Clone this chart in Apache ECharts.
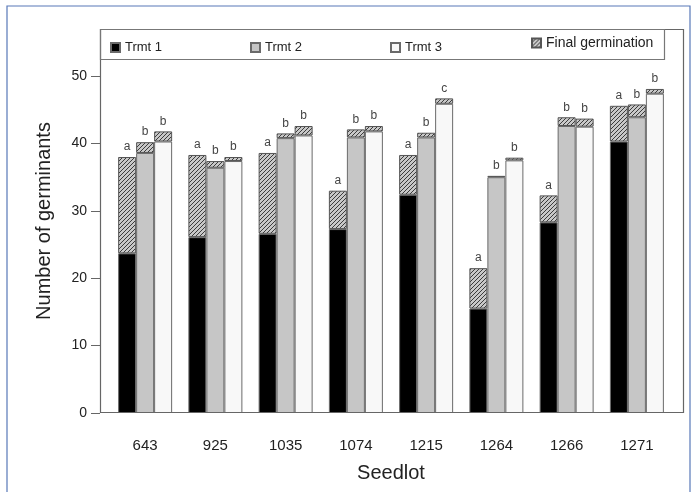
<!DOCTYPE html>
<html>
<head>
<meta charset="utf-8">
<script src="https://cdn.jsdelivr.net/npm/echarts@6/dist/echarts.min.js"></script>
<style>
html,body{margin:0;padding:0;background:#fff}
#chart{width:691px;height:492px}
</style>
</head>
<body>
<div id="chart"></div>
<script>
// seedlots along the x axis
var seedlots = ['643', '925', '1035', '1074', '1215', '1264', '1266', '1271'];

// germinants per treatment (solid part of the bar)
var trmt1 = [23.7, 26.1, 26.6, 27.3, 32.4, 15.5, 28.3, 40.3];
var trmt2 = [38.6, 36.4, 40.8, 40.9, 40.9, 35.0, 42.6, 43.9];
var trmt3 = [40.3, 37.4, 41.2, 41.8, 45.9, 37.5, 42.5, 47.4];

// final germination (top of the hatched part)
var final1 = [38.0, 38.3, 38.6, 33.0, 38.3, 21.5, 32.3, 45.6];
var final2 = [40.2, 37.4, 41.5, 42.1, 41.6, 35.2, 43.9, 45.8];
var final3 = [41.8, 38.0, 42.6, 42.6, 46.7, 37.9, 43.7, 48.1];

// significance letters
var letters1 = ['a', 'a', 'a', 'a', 'a', 'a', 'a', 'a'];
var letters2 = ['b', 'b', 'b', 'b', 'b', 'b', 'b', 'b'];
var letters3 = ['b', 'b', 'b', 'b', 'c', 'b', 'b', 'b'];

var yTicks = [0, 10, 20, 30, 40, 50];

function hatchCanvas() {
	var c = document.createElement('canvas');
	c.width = 4; c.height = 4;
	var g = c.getContext('2d');
	g.fillStyle = '#c8c8c8';
	g.fillRect(0, 0, 4, 4);
	g.strokeStyle = '#3c3c3c';
	g.lineWidth = 1;
	g.beginPath();
	g.moveTo(0, 4); g.lineTo(4, 0);
	g.moveTo(-1, 1); g.lineTo(1, -1);
	g.moveTo(3, 5); g.lineTo(5, 3);
	g.stroke();
	return c;
}
var hatch = {image: hatchCanvas(), repeat: 'repeat'};

function diff(top, base) {
	return top.map(function (v, i) { return +(v - base[i]).toFixed(2); });
}

function baseSeries(name, stack, data, color) {
	return {
		name: name, type: 'bar', stack: stack, data: data,
		barWidth: 18, barGap: '0%',
		itemStyle: {color: color, borderColor: '#6a6a6a', borderWidth: 1}
	};
}

function hatchSeries(stack, data, letters) {
	return {
		name: 'Final germination', type: 'bar', stack: stack, data: data,
		barWidth: 18, barGap: '0%',
		itemStyle: {color: hatch, borderColor: '#555', borderWidth: 1},
		label: {
			show: true, position: 'top', distance: 4,
			fontFamily: 'Liberation Sans', fontSize: 12, color: '#444',
			formatter: function (p) { return letters[p.dataIndex]; }
		}
	};
}

var legendBase = {
	orient: 'horizontal', icon: 'rect', itemWidth: 9, itemHeight: 9,
	itemGap: 0, padding: 0, selectedMode: false,
	textStyle: {fontFamily: 'Liberation Sans', fontSize: 13, color: '#222'}
};

var chart = echarts.init(document.getElementById('chart'));

var option = {
	animation: false,
	backgroundColor: '#fff',
	grid: {left: 110, right: 19, top: 29, bottom: 79},
	legend: [
		Object.assign({}, legendBase, {data: ['Trmt 1'], left: 110, top: 41}),
		Object.assign({}, legendBase, {data: ['Trmt 2'], left: 250, top: 41}),
		Object.assign({}, legendBase, {data: ['Trmt 3'], left: 390, top: 41}),
		Object.assign({}, legendBase, {data: ['Final germination'], left: 531, top: 36,
			textStyle: {fontFamily: 'Liberation Sans', fontSize: 14, color: '#222', padding: [0, 0, 6, 0]}})
	],
	xAxis: {
		type: 'category',
		data: seedlots,
		axisLine: {show: false},
		axisTick: {show: false},
		axisLabel: {fontFamily: 'Liberation Sans', fontSize: 15, color: '#222', margin: 25},
		name: 'Seedlot',
		nameLocation: 'middle',
		nameGap: 50,
		nameTextStyle: {fontFamily: 'Liberation Sans', fontSize: 20, color: '#222'}
	},
	yAxis: {
		type: 'value',
		min: 0, max: 57,
		offset: 10,
		splitLine: {show: false},
		axisLine: {show: false},
		axisTick: {show: true, length: 9, lineStyle: {color: '#666'}, customValues: yTicks},
		axisLabel: {fontFamily: 'Liberation Sans', fontSize: 14, color: '#222', margin: 13, customValues: yTicks},
		name: 'Number of germinants',
		nameLocation: 'middle',
		nameGap: 46,
		nameTextStyle: {fontFamily: 'Liberation Sans', fontSize: 20, color: '#222'}
	},
	graphic: [
		{type: 'rect', silent: true, z: 100,
			shape: {x: 7, y: 6, width: 683, height: 500},
			style: {fill: null, stroke: '#5878b8', lineWidth: 1.2}},
		{type: 'rect', silent: true, z: 100,
			shape: {x: 100.5, y: 29.5, width: 583, height: 383},
			style: {fill: null, stroke: '#666', lineWidth: 1.2}},
		{type: 'rect', silent: true, z: 100,
			shape: {x: 100.5, y: 29.5, width: 564, height: 30},
			style: {fill: null, stroke: '#777', lineWidth: 1.2}}
	],
	series: [
		baseSeries('Trmt 1', 't1', trmt1, '#000'),
		hatchSeries('t1', diff(final1, trmt1), letters1),
		baseSeries('Trmt 2', 't2', trmt2, '#c6c6c6'),
		hatchSeries('t2', diff(final2, trmt2), letters2),
		baseSeries('Trmt 3', 't3', trmt3, '#f8f8f8'),
		hatchSeries('t3', diff(final3, trmt3), letters3)
	]
};

chart.setOption(option);
</script>
</body>
</html>
